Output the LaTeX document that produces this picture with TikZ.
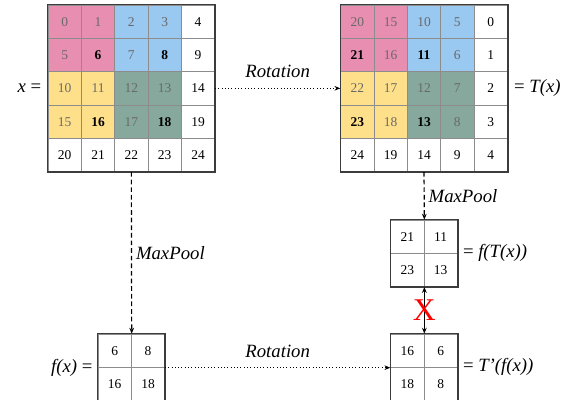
\documentclass[tikz,border=0pt]{standalone}
\usepackage{fontspec}
\setmainfont{Liberation Serif}
\usetikzlibrary{arrows.meta,positioning}
\definecolor{pinkc}{RGB}{232,142,176}
\definecolor{bluec}{RGB}{153,200,240}
\definecolor{yellowc}{RGB}{255,224,138}
\definecolor{greenc}{RGB}{134,168,157}
\definecolor{numgray}{RGB}{105,105,105}
\definecolor{gridgray}{RGB}{140,140,140}
\definecolor{framegray}{RGB}{60,60,60}
\tikzset{
  cell/.style={draw=gridgray, line width=0.6pt, minimum size=1cm, inner sep=0pt, font=\fontsize{11.5}{13}\selectfont},
  pk/.style={fill=pinkc, text=numgray},
  bl/.style={fill=bluec, text=numgray},
  yl/.style={fill=yellowc, text=numgray},
  gn/.style={fill=greenc, text=numgray},
  mx/.style={text=black, font=\fontsize{11.5}{13}\selectfont\bfseries},
  frame/.style={draw=framegray, line width=1.4pt},
  lbl/.style={font=\fontsize{16}{19}\selectfont},
  pool/.style={dash pattern=on 4pt off 2.5pt, line width=1pt, -{Stealth[length=5pt,width=4pt]}},
  rot/.style={dotted, line width=0.8pt, -{Stealth[length=5pt,width=4pt]}},
}
\begin{document}
\begin{tikzpicture}
\useasboundingbox (0,0) rectangle (17.1,-11.98);
% input x
\begin{scope}[every node/.style={cell}]
    \node[pk] (x00) at (1.94,-0.65) {0};
    \node[pk] (x01) at (2.94,-0.65) {1};
    \node[bl] (x02) at (3.94,-0.65) {2};
    \node[bl] (x03) at (4.94,-0.65) {3};
    \node (x04) at (5.94,-0.65) {4};
    \node[pk] (x10) at (1.94,-1.65) {5};
    \node[pk,mx] (x11) at (2.94,-1.65) {6};
    \node[bl] (x12) at (3.94,-1.65) {7};
    \node[bl,mx] (x13) at (4.94,-1.65) {8};
    \node (x14) at (5.94,-1.65) {9};
    \node[yl] (x20) at (1.94,-2.65) {10};
    \node[yl] (x21) at (2.94,-2.65) {11};
    \node[gn] (x22) at (3.94,-2.65) {12};
    \node[gn] (x23) at (4.94,-2.65) {13};
    \node (x24) at (5.94,-2.65) {14};
    \node[yl] (x30) at (1.94,-3.65) {15};
    \node[yl,mx] (x31) at (2.94,-3.65) {16};
    \node[gn] (x32) at (3.94,-3.65) {17};
    \node[gn,mx] (x33) at (4.94,-3.65) {18};
    \node (x34) at (5.94,-3.65) {19};
    \node (x40) at (1.94,-4.65) {20};
    \node (x41) at (2.94,-4.65) {21};
    \node (x42) at (3.94,-4.65) {22};
    \node (x43) at (4.94,-4.65) {23};
    \node (x44) at (5.94,-4.65) {24};
\end{scope}
% rotated T(x)
\begin{scope}[every node/.style={cell}]
    \node[pk] (t00) at (10.72,-0.65) {20};
    \node[pk] (t01) at (11.72,-0.65) {15};
    \node[bl] (t02) at (12.72,-0.65) {10};
    \node[bl] (t03) at (13.72,-0.65) {5};
    \node (t04) at (14.72,-0.65) {0};
    \node[pk,mx] (t10) at (10.72,-1.65) {21};
    \node[pk] (t11) at (11.72,-1.65) {16};
    \node[bl,mx] (t12) at (12.72,-1.65) {11};
    \node[bl] (t13) at (13.72,-1.65) {6};
    \node (t14) at (14.72,-1.65) {1};
    \node[yl] (t20) at (10.72,-2.65) {22};
    \node[yl] (t21) at (11.72,-2.65) {17};
    \node[gn] (t22) at (12.72,-2.65) {12};
    \node[gn] (t23) at (13.72,-2.65) {7};
    \node (t24) at (14.72,-2.65) {2};
    \node[yl,mx] (t30) at (10.72,-3.65) {23};
    \node[yl] (t31) at (11.72,-3.65) {18};
    \node[gn,mx] (t32) at (12.72,-3.65) {13};
    \node[gn] (t33) at (13.72,-3.65) {8};
    \node (t34) at (14.72,-3.65) {3};
    \node (t40) at (10.72,-4.65) {24};
    \node (t41) at (11.72,-4.65) {19};
    \node (t42) at (12.72,-4.65) {14};
    \node (t43) at (13.72,-4.65) {9};
    \node (t44) at (14.72,-4.65) {4};
\end{scope}
% pooled grids
\begin{scope}[every node/.style={cell}]
    \node (p00) at (12.22,-7.1) {21};
    \node (p01) at (13.22,-7.1) {11};
    \node (p10) at (12.22,-8.1) {23};
    \node (p11) at (13.22,-8.1) {13};
    \node (q00) at (12.22,-10.52) {16};
    \node (q01) at (13.22,-10.52) {6};
    \node (q10) at (12.22,-11.52) {18};
    \node (q11) at (13.22,-11.52) {8};
    \node (f00) at (3.44,-10.52) {6};
    \node (f01) at (4.44,-10.52) {8};
    \node (f10) at (3.44,-11.52) {16};
    \node (f11) at (4.44,-11.52) {18};
\end{scope}
\draw[frame] (x00.north west) rectangle (x44.south east);
\draw[frame] (t00.north west) rectangle (t44.south east);
\draw[frame] (p00.north west) rectangle (p11.south east);
\draw[frame] (q00.north west) rectangle (q11.south east);
\draw[frame] (f00.north west) rectangle (f11.south east);
% labels
\node[lbl, left=2pt of x20] (xlab) {\textit{x} =};
\node[lbl, right=2pt of t24] (tlab) {= \textit{T(x)}};
\node[lbl, right=1pt of p11.north east] (plab) {= \textit{f(T(x))}};
\node[lbl, right=1pt of q11.north east] (qlab) {= \textit{T’(f(x))}};
\node[lbl, left=1pt of f00.south west] (flab) {\textit{f(x)} =};
% arrows
\draw[rot] (x24.east) -- node[lbl, above=5pt] {\textit{Rotation}} (t20.west);
\draw[rot] (f01.south east) -- node[lbl, above=5pt] {\textit{Rotation}} (q00.south west);
\draw[pool] (x42.south) -- node[lbl, right] {\textit{MaxPool}} (f00.north east);
\draw[pool] (t42.south) -- node[lbl, right] {\textit{MaxPool}} (p00.north east);
\draw[line width=1pt, {Stealth[length=5pt,width=4pt]}-{Stealth[length=5pt,width=4pt]}] (p10.south east) -- node[text=red, font=\fontsize{27}{29}\selectfont] {X} (q00.north east);
\end{tikzpicture}
\end{document}
